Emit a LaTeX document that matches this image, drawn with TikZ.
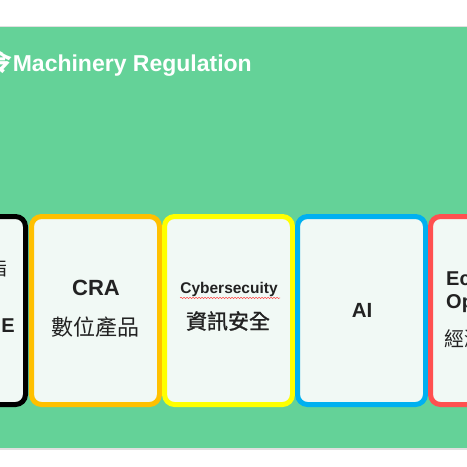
\documentclass[tikz,border=0pt]{standalone}
\usepackage{fontspec}
\setmainfont{Liberation Sans}
\newfontfamily\cjk{Noto Sans CJK TC}
\newfontfamily\cjkmed[FakeBold=1.2]{Noto Sans CJK TC}
\usetikzlibrary{decorations.pathmorphing}
\definecolor{bggreen}{RGB}{100,210,152}
\definecolor{boxfill}{RGB}{241,249,245}
\definecolor{txt}{RGB}{34,34,34}
\definecolor{corange}{RGB}{255,192,0}
\definecolor{cyellow}{RGB}{255,255,0}
\definecolor{cblue}{RGB}{0,176,240}
\definecolor{cred}{RGB}{255,80,80}
\tikzset{
  card/.style={draw=#1, line width=5pt, fill=boxfill, rounded corners=10pt},
  lat/.style={inner sep=0pt, text=txt, font=\bfseries\fontsize{#1}{#1}\selectfont},
  han/.style={inner sep=0pt, text=txt, font=\cjk\fontsize{#1}{#1}\selectfont},
}
\begin{document}
\begin{tikzpicture}[x=1pt,y=-1pt]
\useasboundingbox (0,0) rectangle (467,467);
\clip (0,0) rectangle (467,467);
\fill[white] (0,0) rectangle (467,467);
\fill[black!12] (0,26) rectangle (467,450);
\fill[bggreen] (0,27) rectangle (467,448);
% title
\node[anchor=base east, inner sep=0pt, text=white, font=\bfseries\fontsize{23}{23}\selectfont] (title) at (252,71.5) {{\cjk 機械法令}Machinery Regulation};
% cards
\path[card=black]   (-101.5,216.5) rectangle (25.5,404.5);
\path[card=corange] (31.5,216.5) rectangle (159.5,404.5);
\path[card=cyellow] (164.5,216.5) rectangle (292.5,404.5);
\path[card=cblue]   (297.5,216.5) rectangle (425.5,404.5);
\path[card=cred]    (430.5,216.5) rectangle (558.5,404.5);
% black card text (clipped)
\node[han=20, anchor=east] (b1) at (8,268) {指};
\node[lat=20, anchor=base east] (b2) at (15,332) {E};
% orange
\node[lat=22, anchor=base] (cra) at (96,295) {CRA};
\node[han=22, anchor=center] (cra2) at (96,327) {數位產品};
% yellow
\node[lat=15.5, anchor=base] (cyb) at (229,293) {Cybersecuity};
\draw[red!80, line width=0.5pt, decorate, decoration={snake, amplitude=0.6pt, segment length=3pt}] (cyb.south west) ++(0,1.5) -- ++(100,0);
\node[han=21, anchor=center, font=\cjkmed\fontsize{21}{21}\selectfont] (cyb2) at (228,321) {資訊安全};
% blue
\node[lat=20.5, anchor=base] (ai) at (362,317) {AI};
% red
\node[lat=20, anchor=base] (eco) at (494,285) {Economic};
\node[lat=20, anchor=base] (op) at (494,308) {Operators};
\node[han=20, anchor=center] (eco2) at (494,338.5) {經濟營運者};
\end{tikzpicture}
\end{document}
